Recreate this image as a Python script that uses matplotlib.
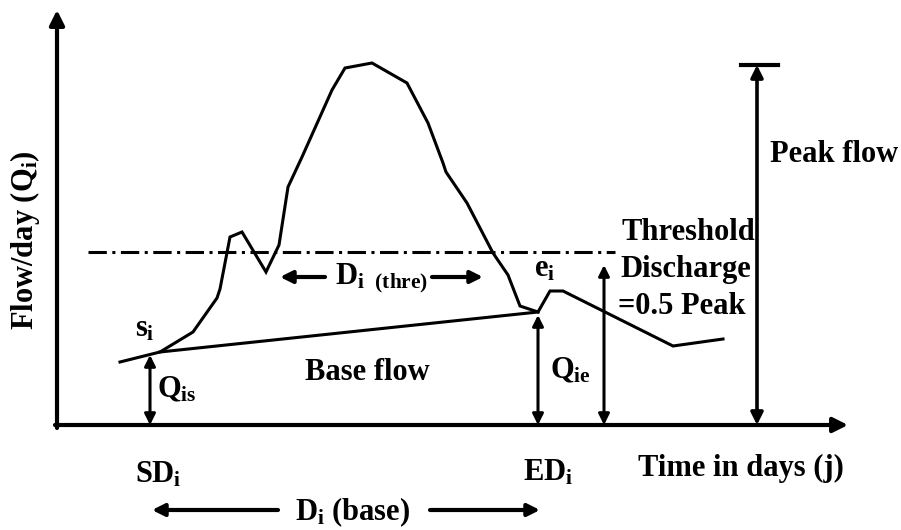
"""Schematic hydrograph: base flow, threshold discharge and peak flow."""
import matplotlib
matplotlib.use("Agg")
import matplotlib.pyplot as plt

plt.rcParams["font.family"] = "Liberation Serif"
plt.rcParams["font.weight"] = "bold"
plt.rcParams["mathtext.fontset"] = "custom"
plt.rcParams["mathtext.rm"] = "Liberation Serif:bold"
plt.rcParams["mathtext.it"] = "Liberation Serif:bold"
plt.rcParams["mathtext.bf"] = "Liberation Serif:bold"

# hydrograph (time in days, flow per day)
days = [6.3, 10.3, 13.6, 16.0, 16.3, 17.3, 18.5, 20.9, 22.2, 23.1, 24.5, 27.5,
        28.8, 31.5, 35.0, 37.1, 38.6, 38.9, 41.0, 43.6, 45.1, 46.3, 48.1, 49.3,
        50.6, 61.6, 66.6]
flow = [6.3, 7.3, 9.3, 12.7, 13.6, 18.8, 19.3, 15.3, 18.0, 23.8, 26.8, 33.5,
        35.7, 36.2, 34.2, 30.2, 26.2, 25.3, 22.2, 17.2, 15.0, 11.9, 11.3, 13.4,
        13.4, 7.9, 8.6]
base_days = [10.3, 48.1]
base_flow = [7.3, 11.3]
threshold = 17.3
threshold_span = [3.1, 55.8]
peak = 36.0
start_day, end_day = 9.3, 48.1

fig = plt.figure(figsize=(9.01, 5.30), dpi=100)
ax = fig.add_axes([0, 0, 1, 1])
ax.set_xlim(-5.7, 84.4)
ax.set_ylim(-10.5, 42.5)
ax.axis("off")

FS = 22


def arrow(x0, y0, x1, y1, style="-|>", lw=2.2, ms=20):
    ax.annotate("", xy=(x1, y1), xytext=(x0, y0),
                arrowprops=dict(arrowstyle=style, lw=lw, color="black",
                                mutation_scale=ms, shrinkA=0, shrinkB=0))


# axes
arrow(0, -0.3, 0, 41.5, lw=3, ms=22)
arrow(-0.2, 0, 79.1, 0, lw=3, ms=22)

# curves
ax.plot(days, flow, color="black", lw=2.2, solid_joinstyle="miter")
ax.plot(base_days, base_flow, color="black", lw=2.2)
ax.plot(threshold_span, [threshold, threshold], color="black", lw=2.2,
        dashes=(6, 1.8, 1, 1.8))

# vertical measures
arrow(start_day, 0, start_day, base_flow[0] - 0.3, style="<|-|>", ms=16)
arrow(end_day, 0, end_day, base_flow[1] - 0.3, style="<|-|>", ms=16)
arrow(54.7, 0, 54.7, 16.0, style="<|-|>", ms=16)
arrow(70.0, 0, 70.0, peak, style="<|-|>", lw=2.6, ms=18)
ax.plot([68.4, 72.1], [peak, peak], color="black", lw=3)

# duration arrows
arrow(26.8, 14.8, 22.3, 14.8, lw=3, ms=18)
arrow(37.5, 14.8, 42.6, 14.8, lw=3, ms=18)
arrow(22.1, -8.5, 9.5, -8.5, lw=3, ms=18)
arrow(37.3, -8.5, 48.3, -8.5, lw=3, ms=18)

# labels
ax.text(-3.2, 18.5, r"Flow/day (Q$_\mathregular{i}$)", rotation=90,
        ha="center", va="center", fontsize=FS)
ax.text(71.3, 27.0, "Peak flow", ha="left", va="center", fontsize=FS)
ax.text(56.5, 19.3, "Threshold", ha="left", va="center", fontsize=FS)
ax.text(56.3, 15.5, "Discharge", ha="left", va="center", fontsize=FS)
ax.text(56.1, 11.8, "=0.5 Peak", ha="left", va="center", fontsize=FS)
ax.text(47.7, 15.6, r"$e_i$", ha="left", va="center", fontsize=FS)
ax.text(7.8, 9.6, r"$s_i$", ha="left", va="center", fontsize=FS)
ax.text(10.0, 3.5, r"$Q_{is}$", ha="left", va="center", fontsize=FS)
ax.text(31.0, 5.3, "Base flow", ha="center", va="center", fontsize=FS)
ax.text(49.3, 5.4, r"$Q_{ie}$", ha="left", va="center", fontsize=FS)
ax.text(7.8, -5.0, r"$SD_i$", ha="left", va="center", fontsize=FS)
ax.text(46.6, -4.8, r"$ED_i$", ha="left", va="center", fontsize=FS)
ax.text(58.1, -4.3, "Time in days (j)", ha="left", va="center", fontsize=FS)
ax.text(27.8, 14.7, r"$D_{i\ \ (thre)}$", ha="left", va="center", fontsize=FS)
ax.text(23.8, -8.7, r"$D_i$ (base)", ha="left", va="center", fontsize=FS)

fig.savefig("out.png", dpi=100)
